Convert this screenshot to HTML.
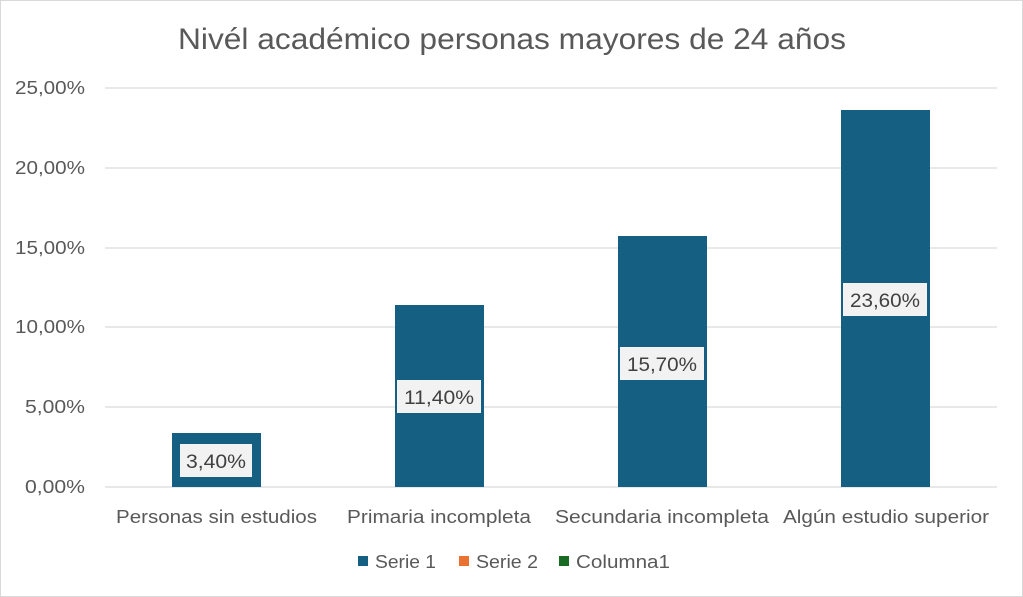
<!DOCTYPE html>
<html><head><meta charset="utf-8"><style>
html,body{margin:0;padding:0;background:#fff}
svg{display:block;font-family:"Liberation Sans",sans-serif}
</style></head><body>
<svg width="1023" height="597" viewBox="0 0 1023 597">
<rect x="0.5" y="0.5" width="1022" height="596" fill="#fff" stroke="#d9d9d9"/>
<text x="178" y="49" font-size="30" fill="#595959" textLength="668" lengthAdjust="spacingAndGlyphs">Nivél académico personas mayores de 24 años</text>
<g stroke="#d9d9d9" stroke-width="1.3">
<line x1="105" x2="997" y1="88" y2="88"/>
<line x1="105" x2="997" y1="168" y2="168"/>
<line x1="105" x2="997" y1="248" y2="248"/>
<line x1="105" x2="997" y1="327" y2="327"/>
<line x1="105" x2="997" y1="407" y2="407"/>
<line x1="105" x2="997" y1="487" y2="487"/>
</g>
<g font-size="18" fill="#595959">
<text x="15" y="94" textLength="70" lengthAdjust="spacingAndGlyphs">25,00%</text>
<text x="15" y="174" textLength="70" lengthAdjust="spacingAndGlyphs">20,00%</text>
<text x="15" y="254" textLength="70" lengthAdjust="spacingAndGlyphs">15,00%</text>
<text x="15" y="333" textLength="70" lengthAdjust="spacingAndGlyphs">10,00%</text>
<text x="25" y="413" textLength="60" lengthAdjust="spacingAndGlyphs">5,00%</text>
<text x="25" y="493" textLength="60" lengthAdjust="spacingAndGlyphs">0,00%</text>
</g>
<g fill="#156082">
<rect x="172" y="433" width="89" height="54"/>
<rect x="395" y="305" width="89" height="182"/>
<rect x="618" y="236" width="89" height="251"/>
<rect x="841" y="110" width="89" height="377"/>
</g>
<g fill="#f2f2f2">
<rect x="180" y="444" width="72" height="33"/>
<rect x="397" y="380" width="84" height="33"/>
<rect x="620" y="347" width="84" height="33"/>
<rect x="843" y="283" width="84" height="33"/>
</g>
<g font-size="19" fill="#404040">
<text x="186" y="468" textLength="60" lengthAdjust="spacingAndGlyphs">3,40%</text>
<text x="404" y="404" textLength="70" lengthAdjust="spacingAndGlyphs">11,40%</text>
<text x="627" y="371" textLength="70" lengthAdjust="spacingAndGlyphs">15,70%</text>
<text x="850" y="307" textLength="70" lengthAdjust="spacingAndGlyphs">23,60%</text>
</g>
<g font-size="18" fill="#595959">
<text x="116" y="523" textLength="201" lengthAdjust="spacingAndGlyphs">Personas sin estudios</text>
<text x="347" y="523" textLength="184" lengthAdjust="spacingAndGlyphs">Primaria incompleta</text>
<text x="555" y="523" textLength="214" lengthAdjust="spacingAndGlyphs">Secundaria incompleta</text>
<text x="783" y="523" textLength="206" lengthAdjust="spacingAndGlyphs">Algún estudio superior</text>
</g>
<rect x="358" y="556" width="10" height="10" fill="#156082"/>
<rect x="459" y="556" width="10" height="10" fill="#e97132"/>
<rect x="559" y="556" width="10" height="10" fill="#196b24"/>
<g font-size="18" fill="#595959">
<text x="375" y="568" textLength="61" lengthAdjust="spacingAndGlyphs">Serie 1</text>
<text x="476" y="568" textLength="62" lengthAdjust="spacingAndGlyphs">Serie 2</text>
<text x="576" y="568" textLength="94" lengthAdjust="spacingAndGlyphs">Columna1</text>
</g>
</svg>
</body></html>
